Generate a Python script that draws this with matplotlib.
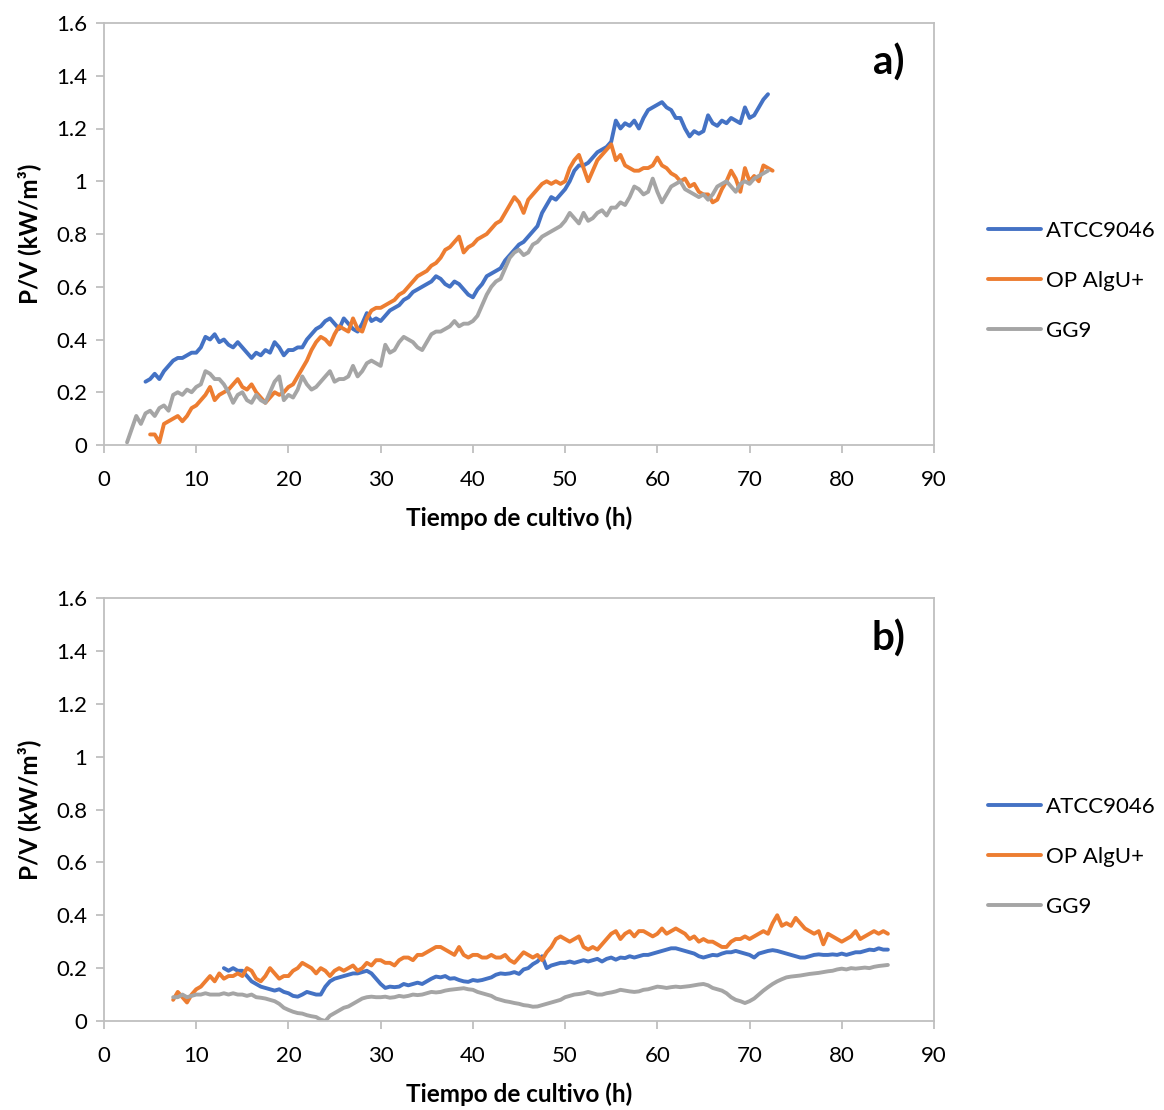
import numpy as np
import matplotlib
matplotlib.use("Agg")
import matplotlib.pyplot as plt

plt.rcParams["font.family"] = ["Lato", "DejaVu Sans"]

# logger interval (h) used for every series
DT = 0.5

LABELS = ["ATCC9046", "OP AlgU+", "GG9"]
COLORS = ["#4472C4", "#ED7D31", "#A5A5A5"]

# ---- panel a) ----
a_start = [4.5, 5.0, 2.5]
a_atcc = [0.24, 0.25, 0.27, 0.25, 0.28, 0.30, 0.32, 0.33, 0.33, 0.34, 0.35, 0.35,
          0.37, 0.41, 0.40, 0.42, 0.39, 0.40, 0.38, 0.37, 0.39, 0.37, 0.35, 0.33,
          0.35, 0.34, 0.36, 0.35, 0.39, 0.37, 0.34, 0.36, 0.36, 0.37, 0.37, 0.40,
          0.42, 0.44, 0.45, 0.47, 0.48, 0.46, 0.44, 0.48, 0.46, 0.44, 0.43, 0.46,
          0.50, 0.47, 0.48, 0.47, 0.49, 0.51, 0.52, 0.53, 0.55, 0.56, 0.58, 0.59,
          0.60, 0.61, 0.62, 0.64, 0.63, 0.61, 0.60, 0.62, 0.61, 0.59, 0.57, 0.56,
          0.59, 0.61, 0.64, 0.65, 0.66, 0.67, 0.70, 0.72, 0.74, 0.76, 0.77, 0.79,
          0.81, 0.83, 0.88, 0.91, 0.94, 0.93, 0.95, 0.97, 1.00, 1.04, 1.06, 1.06,
          1.07, 1.09, 1.11, 1.12, 1.13, 1.15, 1.23, 1.20, 1.22, 1.21, 1.23, 1.20,
          1.24, 1.27, 1.28, 1.29, 1.30, 1.28, 1.27, 1.24, 1.24, 1.20, 1.17, 1.19,
          1.18, 1.19, 1.25, 1.22, 1.21, 1.23, 1.22, 1.24, 1.23, 1.22, 1.28, 1.24,
          1.25, 1.28, 1.31, 1.33]
a_opalgu = [0.04, 0.04, 0.01, 0.08, 0.09, 0.10, 0.11, 0.09, 0.11, 0.14, 0.15, 0.17,
            0.19, 0.22, 0.17, 0.19, 0.20, 0.21, 0.23, 0.25, 0.22, 0.21, 0.23, 0.20,
            0.18, 0.16, 0.18, 0.20, 0.19, 0.20, 0.22, 0.23, 0.26, 0.29, 0.32, 0.36,
            0.39, 0.41, 0.40, 0.38, 0.42, 0.45, 0.44, 0.43, 0.48, 0.44, 0.43, 0.48,
            0.51, 0.52, 0.52, 0.53, 0.54, 0.55, 0.57, 0.58, 0.60, 0.62, 0.64, 0.65,
            0.66, 0.68, 0.69, 0.71, 0.74, 0.75, 0.77, 0.79, 0.73, 0.75, 0.76, 0.78,
            0.79, 0.80, 0.82, 0.84, 0.85, 0.88, 0.91, 0.94, 0.92, 0.88, 0.93, 0.95,
            0.97, 0.99, 1.00, 0.99, 1.00, 0.99, 1.00, 1.05, 1.08, 1.10, 1.05, 1.00,
            1.04, 1.08, 1.10, 1.12, 1.14, 1.08, 1.10, 1.06, 1.05, 1.04, 1.04, 1.05,
            1.05, 1.06, 1.09, 1.06, 1.05, 1.03, 1.02, 1.00, 1.01, 0.98, 0.99, 0.96,
            0.95, 0.95, 0.92, 0.93, 0.97, 1.00, 1.04, 1.01, 0.96, 1.05, 1.00, 1.02,
            1.00, 1.06, 1.05, 1.04]
a_gg9 = [0.01, 0.06, 0.11, 0.08, 0.12, 0.13, 0.11, 0.14, 0.15, 0.13, 0.19, 0.20,
         0.19, 0.21, 0.20, 0.22, 0.23, 0.28, 0.27, 0.25, 0.25, 0.23, 0.20, 0.16,
         0.19, 0.20, 0.17, 0.16, 0.19, 0.17, 0.16, 0.20, 0.24, 0.26, 0.17, 0.19,
         0.18, 0.21, 0.26, 0.23, 0.21, 0.22, 0.24, 0.26, 0.28, 0.24, 0.25, 0.25,
         0.26, 0.30, 0.26, 0.28, 0.31, 0.32, 0.31, 0.30, 0.38, 0.35, 0.36, 0.39,
         0.41, 0.40, 0.39, 0.37, 0.36, 0.39, 0.42, 0.43, 0.43, 0.44, 0.45, 0.47,
         0.45, 0.46, 0.46, 0.47, 0.49, 0.53, 0.57, 0.60, 0.62, 0.63, 0.67, 0.71,
         0.73, 0.74, 0.72, 0.73, 0.76, 0.77, 0.79, 0.80, 0.81, 0.82, 0.83, 0.85,
         0.88, 0.86, 0.84, 0.88, 0.85, 0.86, 0.88, 0.89, 0.87, 0.90, 0.90, 0.92,
         0.91, 0.94, 0.98, 0.97, 0.95, 0.96, 1.01, 0.96, 0.92, 0.95, 0.98, 0.99,
         1.00, 0.97, 0.96, 0.95, 0.94, 0.95, 0.93, 0.95, 0.98, 0.99, 1.00, 0.98,
         0.96, 0.99, 1.00, 0.99, 1.01, 1.02, 1.03, 1.04]

# ---- panel b) ----
b_start = [13.0, 7.5, 7.5]
b_atcc = [0.20, 0.19, 0.20, 0.19, 0.19, 0.17, 0.15, 0.14, 0.13, 0.125, 0.12, 0.115,
          0.12, 0.11, 0.105, 0.095, 0.092, 0.10, 0.11, 0.105, 0.10, 0.10, 0.13, 0.15,
          0.16, 0.165, 0.17, 0.175, 0.18, 0.18, 0.185, 0.19, 0.18, 0.16, 0.14, 0.125,
          0.13, 0.128, 0.13, 0.14, 0.135, 0.14, 0.145, 0.14, 0.15, 0.16, 0.168, 0.165,
          0.17, 0.16, 0.162, 0.155, 0.15, 0.148, 0.155, 0.152, 0.155, 0.16, 0.165, 0.175,
          0.18, 0.178, 0.18, 0.185, 0.178, 0.195, 0.20, 0.215, 0.225, 0.245, 0.20, 0.21,
          0.215, 0.22, 0.22, 0.225, 0.22, 0.225, 0.23, 0.225, 0.23, 0.235, 0.225, 0.235,
          0.24, 0.232, 0.24, 0.238, 0.245, 0.24, 0.245, 0.25, 0.25, 0.255, 0.26, 0.265,
          0.27, 0.275, 0.275, 0.27, 0.265, 0.26, 0.255, 0.245, 0.24, 0.245, 0.25, 0.248,
          0.255, 0.26, 0.26, 0.265, 0.26, 0.255, 0.25, 0.24, 0.255, 0.26, 0.265, 0.268,
          0.265, 0.26, 0.255, 0.25, 0.245, 0.24, 0.24, 0.245, 0.25, 0.252, 0.25, 0.25,
          0.252, 0.25, 0.255, 0.25, 0.255, 0.26, 0.26, 0.265, 0.27, 0.268, 0.275, 0.27,
          0.27]
b_opalgu = [0.08, 0.11, 0.09, 0.07, 0.10, 0.12, 0.13, 0.15, 0.17, 0.15, 0.18, 0.16,
            0.17, 0.17, 0.18, 0.17, 0.20, 0.19, 0.16, 0.15, 0.17, 0.20, 0.18, 0.16,
            0.17, 0.17, 0.19, 0.20, 0.22, 0.21, 0.20, 0.18, 0.20, 0.19, 0.17, 0.19,
            0.20, 0.19, 0.20, 0.21, 0.19, 0.20, 0.22, 0.21, 0.23, 0.23, 0.22, 0.22,
            0.21, 0.23, 0.24, 0.24, 0.23, 0.25, 0.25, 0.26, 0.27, 0.28, 0.28, 0.27,
            0.26, 0.25, 0.28, 0.25, 0.24, 0.25, 0.25, 0.24, 0.24, 0.25, 0.24, 0.24,
            0.25, 0.23, 0.22, 0.24, 0.26, 0.25, 0.24, 0.25, 0.23, 0.26, 0.28, 0.31,
            0.32, 0.31, 0.30, 0.31, 0.32, 0.28, 0.27, 0.28, 0.27, 0.29, 0.31, 0.33,
            0.34, 0.31, 0.33, 0.34, 0.32, 0.34, 0.34, 0.33, 0.32, 0.33, 0.35, 0.33,
            0.34, 0.35, 0.34, 0.33, 0.31, 0.32, 0.30, 0.31, 0.30, 0.30, 0.29, 0.28,
            0.28, 0.30, 0.31, 0.31, 0.32, 0.31, 0.32, 0.33, 0.34, 0.33, 0.37, 0.40,
            0.36, 0.37, 0.36, 0.39, 0.37, 0.35, 0.34, 0.33, 0.34, 0.29, 0.33, 0.32,
            0.31, 0.30, 0.31, 0.32, 0.34, 0.31, 0.32, 0.33, 0.34, 0.33, 0.34, 0.33]
b_gg9 = [0.09, 0.09, 0.10, 0.09, 0.095, 0.10, 0.10, 0.105, 0.10, 0.10, 0.10, 0.105,
         0.10, 0.105, 0.10, 0.10, 0.095, 0.10, 0.09, 0.088, 0.085, 0.08, 0.075, 0.065,
         0.05, 0.042, 0.035, 0.03, 0.028, 0.022, 0.018, 0.015, 0.005, 0.0, 0.02, 0.03,
         0.04, 0.05, 0.055, 0.065, 0.075, 0.085, 0.09, 0.092, 0.09, 0.09, 0.092, 0.088,
         0.09, 0.095, 0.092, 0.095, 0.10, 0.098, 0.10, 0.105, 0.11, 0.108, 0.11, 0.115,
         0.118, 0.12, 0.122, 0.124, 0.12, 0.118, 0.11, 0.105, 0.10, 0.095, 0.085, 0.08,
         0.075, 0.072, 0.068, 0.065, 0.06, 0.058, 0.054, 0.055, 0.06, 0.065, 0.07, 0.075,
         0.08, 0.09, 0.095, 0.10, 0.102, 0.105, 0.11, 0.105, 0.10, 0.10, 0.105, 0.108,
         0.112, 0.118, 0.115, 0.112, 0.11, 0.112, 0.118, 0.12, 0.125, 0.13, 0.128, 0.125,
         0.128, 0.13, 0.128, 0.13, 0.132, 0.135, 0.138, 0.14, 0.135, 0.125, 0.12, 0.115,
         0.105, 0.09, 0.08, 0.075, 0.068, 0.075, 0.085, 0.10, 0.115, 0.128, 0.14, 0.15,
         0.158, 0.165, 0.168, 0.17, 0.172, 0.175, 0.178, 0.18, 0.182, 0.185, 0.188, 0.19,
         0.195, 0.198, 0.195, 0.20, 0.198, 0.20, 0.202, 0.20, 0.205, 0.208, 0.21, 0.212]

X_TICKS = [0, 10, 20, 30, 40, 50, 60, 70, 80, 90]
Y_TICKS = [0, 0.2, 0.4, 0.6, 0.8, 1.0, 1.2, 1.4, 1.6]
Y_TICKLABELS = ["0", "0.2", "0.4", "0.6", "0.8", "1", "1.2", "1.4", "1.6"]

SPINE = "#BFBFBF"


def draw_panel(fig, rect, starts, series, tag, legend_y):
    """Draws one P/V panel with its legend to the right."""
    ax = fig.add_axes(rect)
    handles = []
    for t0, vals, lab, col in zip(starts, series, LABELS, COLORS):
        t = t0 + DT * np.arange(len(vals))
        h, = ax.plot(t, vals, color=col, lw=2.8, label=lab,
                     solid_joinstyle="round", solid_capstyle="round")
        handles.append(h)

    ax.set_xlim(0, 90)
    ax.set_ylim(0, 1.6)
    ax.set_xticks(X_TICKS)
    ax.set_yticks(Y_TICKS)
    ax.set_yticklabels(Y_TICKLABELS)
    for s in ax.spines.values():
        s.set_color(SPINE)
        s.set_linewidth(1.3)
    ax.tick_params(axis="both", direction="out", length=6, width=1.3,
                   color=SPINE, labelsize=16, labelcolor="black", pad=6)
    ax.tick_params(axis="x", pad=12)
    ax.set_xlabel("Tiempo de cultivo (h)", fontsize=17.5, fontweight="bold",
                  labelpad=12)
    ax.set_ylabel("P/V (kW/m³)", fontsize=17.5, fontweight="bold", labelpad=11)
    ax.text(0.965, 0.905, tag, transform=ax.transAxes, fontsize=29,
            fontweight="bold", ha="right", va="center")

    fig.legend(handles=handles, loc="center left",
               bbox_to_anchor=(988 / 1164, legend_y), frameon=False,
               fontsize=16, handlelength=2.4, handletextpad=0.2,
               labelspacing=1.35, borderpad=0, borderaxespad=0)
    return ax


def main():
    """Builds the two stacked panels and saves the figure."""
    fig = plt.figure(figsize=(11.64, 11.10), dpi=100)
    draw_panel(fig, [104 / 1164, 1 - 445 / 1110, 830 / 1164, 422 / 1110],
               a_start, [a_atcc, a_opalgu, a_gg9], "a)", 1 - 281 / 1110)
    draw_panel(fig, [104 / 1164, 1 - 1021 / 1110, 830 / 1164, 423 / 1110],
               b_start, [b_atcc, b_opalgu, b_gg9], "b)", 1 - 857 / 1110)
    fig.savefig("out.png", dpi=100)


if __name__ == "__main__":
    main()
